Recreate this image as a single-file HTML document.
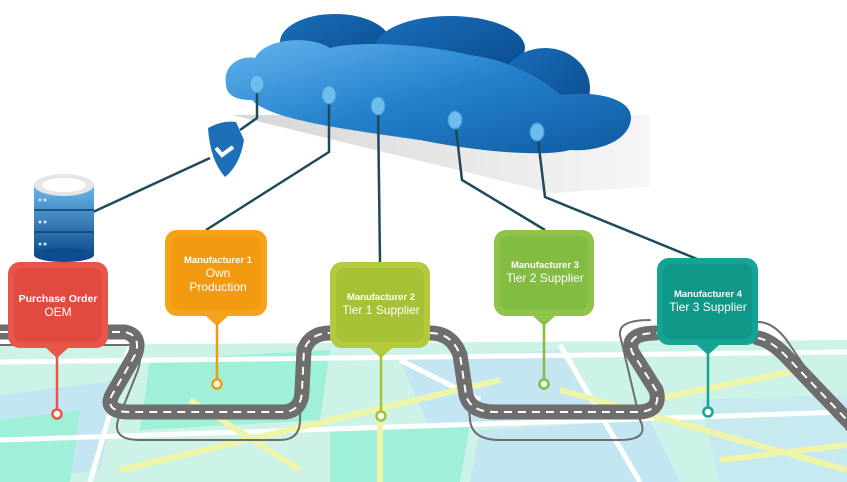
<!DOCTYPE html>
<html><head><meta charset="utf-8"><style>
html,body{margin:0;padding:0;background:#fff;width:847px;height:482px;overflow:hidden}
svg{display:block}
text{font-family:"Liberation Sans",sans-serif;fill:#fff;text-anchor:middle}
</style></head><body>
<svg width="847" height="482" viewBox="0 0 847 482" xmlns="http://www.w3.org/2000/svg">
<defs>
<linearGradient id="cl" x1="0" y1="0" x2="1" y2="1"><stop offset="0" stop-color="#62b3ee"/><stop offset="0.5" stop-color="#2381cb"/><stop offset="1" stop-color="#0f5aa2"/></linearGradient>
<linearGradient id="ct" x1="0" y1="0" x2="1" y2="1"><stop offset="0" stop-color="#1a6fbb"/><stop offset="1" stop-color="#0a4a8c"/></linearGradient>
<linearGradient id="sh" x1="0" y1="0" x2="1" y2="0"><stop offset="0" stop-color="#d6d6d6"/><stop offset="1" stop-color="#f6f6f6"/></linearGradient>
<linearGradient id="db" x1="0" y1="0" x2="0" y2="1"><stop offset="0" stop-color="#6ab7ea"/><stop offset="1" stop-color="#0e4d8c"/></linearGradient>
</defs>
<!-- map -->
<polygon points="0,345 847,340 847,482 0,482" fill="#cdf2e8"/>
<polygon points="0,395 120,380 100,470 0,482" fill="#c4e6f3"/>
<polygon points="150,360 330,350 320,420 140,430" fill="#9ef0d9"/>
<polygon points="400,360 560,350 600,420 430,430" fill="#c4e6f3"/>
<polygon points="480,430 650,420 680,482 470,482" fill="#c4e6f3"/>
<polygon points="0,420 80,410 70,482 0,482" fill="#9ef0d9"/>
<polygon points="330,430 470,425 460,482 330,482" fill="#9ef0d9"/>
<polygon points="700,400 847,395 847,482 720,482" fill="#c4e6f3" opacity="0.7"/>
<g stroke="#fff" stroke-width="5" fill="none">
<line x1="0" y1="362" x2="847" y2="352"/><line x1="0" y1="440" x2="847" y2="412"/>
<line x1="130" y1="345" x2="90" y2="482"/><line x1="560" y1="345" x2="640" y2="482"/>
<line x1="400" y1="360" x2="480" y2="400"/>
</g>
<g stroke="#eef5a8" stroke-width="6" fill="none">
<line x1="120" y1="470" x2="500" y2="380"/><line x1="380" y1="420" x2="380" y2="482"/>
<line x1="190" y1="400" x2="300" y2="470"/><line x1="560" y1="390" x2="847" y2="470"/>
<line x1="650" y1="400" x2="800" y2="370"/><line x1="720" y1="460" x2="847" y2="445"/>
</g>
<!-- road -->
<g fill="none" stroke="#6e6e6e" stroke-linejoin="round" stroke-linecap="round">
<path d="M0,345 L130,345 Q145,345 138,370 L118,420 Q112,440 140,440 L280,440 Q300,440 300,420 L302,350 Q304,330 330,330" stroke-width="2"/>
<path d="M430,335 Q460,335 465,360 L470,420 Q472,440 500,440 L620,440 Q650,440 640,420 L620,335 Q618,320 650,320" stroke-width="2"/>
<path d="M758,322 Q775,322 790,345 L847,430" stroke-width="2"/>
<path d="M0,332 L125,332 Q142,336 135,355 L112,395 Q104,412 130,412 L285,412 Q302,410 302,390 L304,350 Q310,333 330,333 M430,333 Q452,333 460,355 L466,395 Q470,412 495,412 L640,412 Q662,410 656,390 L632,352 Q625,333 657,333 M758,338 Q770,340 785,355 L847,420" stroke-width="15"/>
</g>
<path d="M0,332 L125,332 Q142,336 135,355 L112,395 Q104,412 130,412 L285,412 Q302,410 302,390 L304,350 Q310,333 330,333 M430,333 Q452,333 460,355 L466,395 Q470,412 495,412 L640,412 Q662,410 656,390 L632,352 Q625,333 657,333 M758,338 Q770,340 785,355 L847,420" fill="none" stroke="#fff" stroke-width="2" stroke-dasharray="8,6"/>
<!-- cloud shadow -->
<polygon points="232,115 650,115 650,187 552,193" fill="url(#sh)"/>
<!-- cloud: back bumps -->
<g fill="url(#ct)">
<ellipse cx="335" cy="42" rx="55" ry="28"/>
<ellipse cx="450" cy="48" rx="75" ry="32"/>
<ellipse cx="545" cy="88" rx="45" ry="40"/>
</g>
<path d="M226,85 C222,62 245,55 255,58 C265,38 310,35 330,48 C360,40 430,45 470,55 C510,60 545,80 560,95 C600,90 632,100 631,118 C630,140 600,152 570,150 C540,158 470,150 420,140 C350,130 270,120 252,100 C235,100 227,95 226,85 Z" fill="url(#cl)"/>
<!-- connectors -->
<g stroke="#1f4a5a" stroke-width="2.5" fill="none">
<polyline points="257,83 257,118 240,130"/>
<line x1="210" y1="158" x2="93" y2="212"/>
<polyline points="329,95 329,152 206,230"/>
<polyline points="378,106 380,262"/>
<polyline points="455,120 462,180 545,230"/>
<polyline points="537,131 545,197 697,259"/>
</g>
<g fill="#6ebcec" stroke="#3a95d6" stroke-width="1">
<ellipse cx="257" cy="84" rx="7" ry="9"/><ellipse cx="329" cy="95" rx="7" ry="9"/><ellipse cx="378" cy="106" rx="7" ry="9"/><ellipse cx="455" cy="120" rx="7" ry="9"/><ellipse cx="537" cy="132" rx="7" ry="9"/>
</g>
<!-- shield -->
<path d="M208,128 Q222,120 236,122 L244,140 Q240,165 225,177 Q210,160 208,128Z" fill="#1d6fb8"/>
<path d="M216,148 L222,155 L233,147" stroke="#fff" stroke-width="4" fill="none"/>
<!-- database -->
<rect x="34" y="185" width="60" height="70" fill="url(#db)"/>
<ellipse cx="64" cy="255" rx="30" ry="7" fill="#0e4d8c"/>
<line x1="34" y1="210" x2="94" y2="210" stroke="#0c3f75" stroke-width="1.5"/>
<line x1="34" y1="232" x2="94" y2="232" stroke="#0c3f75" stroke-width="1.5"/>
<ellipse cx="64" cy="185" rx="30" ry="11" fill="#e6e6e6"/>
<ellipse cx="64" cy="185" rx="22" ry="7" fill="#fff"/>
<g fill="#cfe8fa"><circle cx="40" cy="222" r="1.5"/><circle cx="45" cy="222" r="1.5"/><circle cx="40" cy="244" r="1.5"/><circle cx="45" cy="244" r="1.5"/><circle cx="40" cy="200" r="1.5"/><circle cx="45" cy="200" r="1.5"/></g>
<!-- boxes -->
<g>
<path d="M20,262 h76 a12,12 0 0 1 12,12 v62 a12,12 0 0 1 -12,12 h-28 l-11,10 l-11,-10 h-26 a12,12 0 0 1 -12,-12 v-62 a12,12 0 0 1 12,-12z" fill="#e8564a"/>
<rect x="14" y="268" width="88" height="74" rx="9" fill="#e04a3f"/>
<line x1="57" y1="355" x2="57" y2="410" stroke="#e8564a" stroke-width="2.5"/><circle cx="57" cy="414" r="4.5" fill="#fff" stroke="#e8564a" stroke-width="2.5"/>
<text x="58" y="302" font-size="10.5" font-weight="bold">Purchase Order</text><text x="58" y="316" font-size="12">OEM</text>
</g>
<g>
<path d="M177,230 h78 a12,12 0 0 1 12,12 v62 a12,12 0 0 1 -12,12 h-27 l-11,10 l-11,-10 h-29 a12,12 0 0 1 -12,-12 v-62 a12,12 0 0 1 12,-12z" fill="#f7a21b"/>
<rect x="171" y="236" width="90" height="74" rx="9" fill="#f29a10"/>
<line x1="217" y1="322" x2="217" y2="380" stroke="#f29a10" stroke-width="2.5"/><circle cx="217" cy="384" r="4.5" fill="#fff" stroke="#f29a10" stroke-width="2.5"/>
<text x="218" y="263" font-size="9.5" font-weight="bold">Manufacturer 1</text><text x="218" y="277" font-size="12">Own</text><text x="218" y="291" font-size="12">Production</text>
</g>
<g>
<path d="M342,262 h76 a12,12 0 0 1 12,12 v62 a12,12 0 0 1 -12,12 h-26 l-11,10 l-11,-10 h-28 a12,12 0 0 1 -12,-12 v-62 a12,12 0 0 1 12,-12z" fill="#b3ca3e"/>
<rect x="336" y="268" width="88" height="74" rx="9" fill="#a7c135"/>
<line x1="381" y1="355" x2="381" y2="412" stroke="#a7c135" stroke-width="2.5"/><circle cx="381" cy="416" r="4.5" fill="#fff" stroke="#a7c135" stroke-width="2.5"/>
<text x="381" y="300" font-size="9.5" font-weight="bold">Manufacturer 2</text><text x="381" y="314" font-size="12">Tier 1 Supplier</text>
</g>
<g>
<path d="M506,230 h76 a12,12 0 0 1 12,12 v62 a12,12 0 0 1 -12,12 h-27 l-11,10 l-11,-10 h-27 a12,12 0 0 1 -12,-12 v-62 a12,12 0 0 1 12,-12z" fill="#8fc34c"/>
<rect x="500" y="236" width="88" height="74" rx="9" fill="#84bb42"/>
<line x1="544" y1="322" x2="544" y2="380" stroke="#84bb42" stroke-width="2.5"/><circle cx="544" cy="384" r="4.5" fill="#fff" stroke="#84bb42" stroke-width="2.5"/>
<text x="545" y="268" font-size="9.5" font-weight="bold">Manufacturer 3</text><text x="545" y="282" font-size="12">Tier 2 Supplier</text>
</g>
<g>
<path d="M669,258 h77 a12,12 0 0 1 12,12 v63 a12,12 0 0 1 -12,12 h-27 l-11,10 l-11,-10 h-28 a12,12 0 0 1 -12,-12 v-63 a12,12 0 0 1 12,-12z" fill="#16a394"/>
<rect x="663" y="264" width="89" height="75" rx="9" fill="#0f9788"/>
<line x1="708" y1="352" x2="708" y2="408" stroke="#16a394" stroke-width="2.5"/><circle cx="708" cy="412" r="4.5" fill="#fff" stroke="#16a394" stroke-width="2.5"/>
<text x="708" y="297" font-size="9.5" font-weight="bold">Manufacturer 4</text><text x="708" y="311" font-size="12">Tier 3 Supplier</text>
</g>
</svg>
</body></html>
